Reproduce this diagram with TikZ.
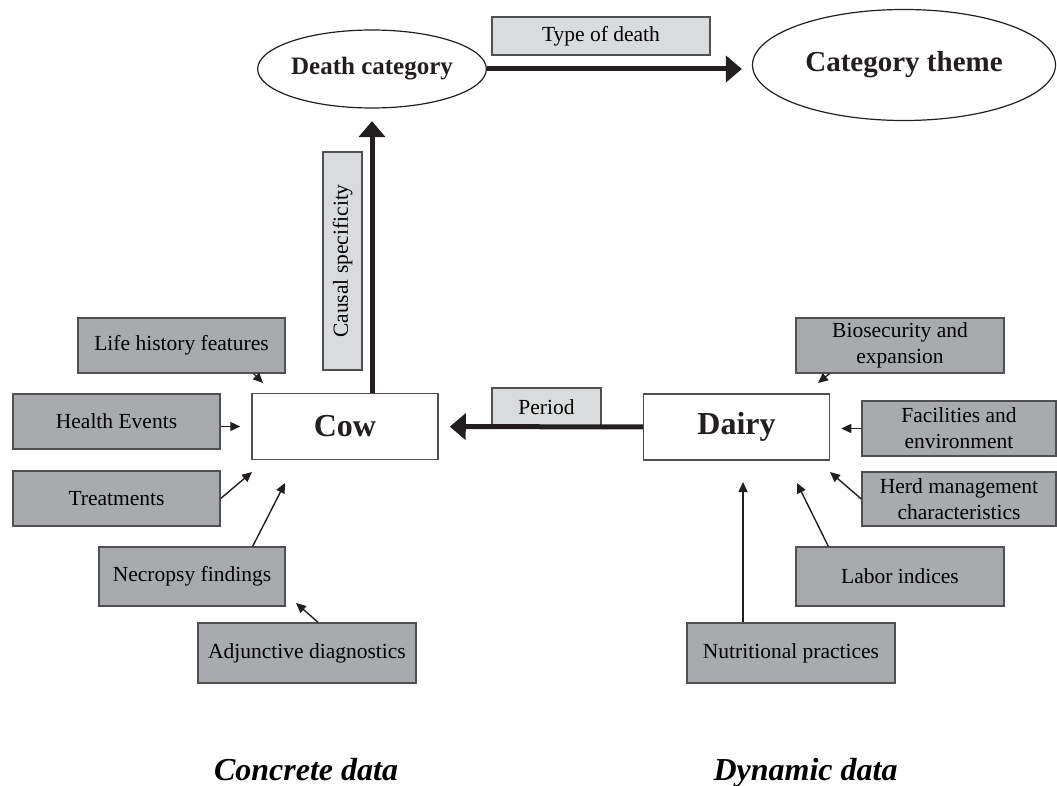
\documentclass[tikz,border=0pt]{standalone}
\usepackage{fontspec}
\setmainfont{Liberation Serif}
\usetikzlibrary{arrows.meta,shapes.geometric}
\definecolor{boxdark}{RGB}{168,170,173}
\definecolor{boxlight}{RGB}{218,219,221}
\definecolor{edgegray}{RGB}{80,80,82}
\definecolor{inkblack}{RGB}{35,31,32}
\newcommand{\boxfont}{\fontsize{21.5}{26}\selectfont}
\newcommand{\keyfont}{\fontsize{32}{36}\selectfont\bfseries}

\begin{document}
\begin{tikzpicture}[x=1pt, y=-1pt,
    databox/.style={draw=edgegray, fill=boxdark, line width=1.4pt, align=center, font=\boxfont, inner sep=0pt},
    tagbox/.style={draw=edgegray, fill=boxlight, line width=1.2pt, font=\boxfont, inner sep=0pt},
    unitbox/.style={draw=edgegray, fill=white, line width=1.5pt, minimum width=186pt, minimum height=66pt, font=\keyfont, text=inkblack},
    catnode/.style={ellipse, draw=inkblack, line width=1.2pt, inner sep=0pt, text=inkblack},
    bigarrow/.style={draw=inkblack, line width=5pt, -{Triangle[length=16pt,width=26pt]}},
    smallarrow/.style={draw=inkblack, line width=1.4pt, -{Triangle[length=10pt,width=9pt]}},
    sidelabel/.style={font=\fontsize{32}{36}\selectfont\bfseries\itshape, inner sep=0pt, anchor=base}]
\useasboundingbox (0,0) rectangle (1057,786);

\node[catnode, minimum width=220pt, minimum height=78pt, font=\fontsize{25}{30}\selectfont\bfseries] (deathcat) at (372,69) {Death category};
\node[catnode, minimum width=303pt, minimum height=111pt, font=\fontsize{29}{34}\selectfont\bfseries] (cattheme) at (904,65) {Category theme};
\node[tagbox, minimum width=218pt, minimum height=38pt] (typedeath) at (601,36) {Type of death};
\node[tagbox, minimum width=218pt, minimum height=39pt, rotate=90] (causal) at (342.5,261) {Causal specificity};
\node[tagbox, minimum width=109pt, minimum height=38pt] (period) at (546.5,407) {Period};

\node[unitbox] (cow) at (345,426.5) {Cow};
\node[unitbox] (dairy) at (736.5,427) {Dairy};

\foreach \nm/\x/\y/\bw/\bh/\txt in {
    life/181.5/345.5/207/55/{Life history features},
    health/116.5/421.5/207/55/{Health Events},
    treat/116.5/498.5/207/55/{Treatments},
    necro/192/576.5/186/59/{Necropsy findings},
    adjunct/307/653/218/60/{Adjunctive diagnostics},
    biosec/900/345.5/208/55/{Biosecurity and\\expansion},
    facil/959/428.5/194/55/{Facilities and\\environment},
    herd/959/499/194/54/{Herd management\\characteristics},
    labor/900/576.5/208/59/{Labor indices},
    nutri/791/653/208/60/{Nutritional practices}}
{
    \node[databox, minimum width=\bw pt, minimum height=\bh pt] (\nm) at (\x,\y) {\txt};
}

\draw[bigarrow, shorten >=10pt] (deathcat.east) -- (deathcat.east -| cattheme.west);
\draw[bigarrow, shorten >=12.5pt] (cow.north -| deathcat) -- (deathcat.south);
\draw[bigarrow, shorten >=11pt] (dairy) -- (cow);

\coordinate (lifetip) at (263,383);
\coordinate (treattip) at (252,472);
\coordinate (necrotip) at (285,483);
\coordinate (adjtip) at (296,603);
\coordinate (biotip) at (818,383);
\coordinate (herdtip) at (830,472);
\coordinate (labortip) at (797,483);
\coordinate (nutritip) at (743,482);

\draw[smallarrow] ([xshift=-32pt]life.south east) -- (lifetip);
\draw[smallarrow, shorten >=11pt] (health.east |- cow) -- (cow.west);
\draw[smallarrow] (treat.east) -- (treattip);
\draw[smallarrow] ([xshift=-33pt]necro.north east) -- (necrotip);
\draw[smallarrow] ([xshift=11pt]adjunct.north) -- (adjtip);
\draw[smallarrow] ([xshift=34pt]biosec.south west) -- (biotip);
\draw[smallarrow, shorten >=11pt] (facil.west) -- (facil.west -| dairy.east);
\draw[smallarrow] (herd.west) -- (herdtip);
\draw[smallarrow] ([xshift=33pt]labor.north west) -- (labortip);
\draw[smallarrow] ([xshift=-48pt]nutri.north) -- (nutritip);

\node[sidelabel] (concrete) at (306,780) {Concrete data};
\node[sidelabel] (dynamic) at (805.5,780) {Dynamic data};

\end{tikzpicture}
\end{document}
